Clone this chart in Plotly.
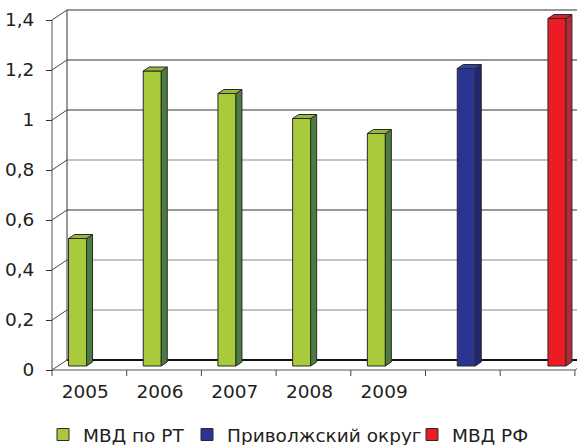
import plotly.graph_objects as go

# ---- data ----
years = ['2005', '2006', '2007', '2008', '2009']
rt_values = [0.51, 1.18, 1.09, 0.99, 0.93]
pfo_values = [1.19]
rf_values = [1.39]
series_names = ['МВД по РТ', 'Приволжский округ', 'МВД РФ']
y_ticks = [0, 0.2, 0.4, 0.6, 0.8, 1.0, 1.2, 1.4]
y_tick_text = ['0', '0,2', '0,4', '0,6', '0,8', '1', '1,2', '1,4']
n_categories = 7

# ---- geometry helpers (pixel -> axis units) ----
W, H = 577, 445
ML, MR, MT, MB = 40, 0, 4, 63
plot_w = W - ML - MR
plot_h = H - MT - MB
PXX = 74.7   # px per category
PXY = 250.0  # px per value unit
X0PX, Y0PX = 52, 370  # front origin in page pixels


def ux(px):
    return px / PXX


def uy(px):
    return px / PXY


def paper_x(px):
    return (px - ML) / plot_w


def paper_y(py):
    return (H - MB - py) / plot_h


x_range = [-(X0PX - ML) / PXX, (W - MR - X0PX) / PXX]
y_range = [-(H - MB - Y0PX) / PXY, (Y0PX - MT) / PXY]

DX, DY = ux(15), uy(10)     # back-wall depth offset
BDX, BDY = ux(6), uy(4)     # bar depth offset
BASE = uy(4)
BW = ux(18)
offsets = [ux(-11.8), ux(3.4), ux(19.4)]

cats_of_series = [list(range(len(years))), [5], [6]]
values = [rt_values, pfo_values, rf_values]
front_colors = ['#A9CB3B', '#2B3591', '#ED1C24']
side_colors = ['#4B7C3B', '#1F2870', '#B22A37']
top_colors = ['#93B83C', '#3540A0', '#DC1F29']
legend_ids = ['legend', 'legend2', 'legend3']
legend_left_px = [43, 187, 412]
OUT = '#2A2A2A'
TXT = '#231F20'
FONT = 'DejaVu Sans, sans-serif'

fig = go.Figure()

# front faces as bars
for s in range(3):
    xs = [c + 0.5 + offsets[s] for c in cats_of_series[s]]
    fig.add_trace(go.Bar(
        x=xs, y=values[s], base=BASE, width=BW, name=series_names[s],
        legend=legend_ids[s],
        marker=dict(color=front_colors[s], line=dict(color=OUT, width=1)),
        hoverinfo='skip'))

# side and top faces
for s in range(3):
    sx, sy, tx, ty = [], [], [], []
    for c, v in zip(cats_of_series[s], values[s]):
        xl = c + 0.5 + offsets[s] - BW / 2
        xr = xl + BW
        top = BASE + v
        sx += [xr, xr, xr + BDX, xr + BDX, xr, None]
        sy += [BASE, top, top + BDY, BASE + BDY, BASE, None]
        tx += [xl, xr, xr + BDX, xl + BDX, xl, None]
        ty += [top, top, top + BDY, top + BDY, top, None]
    fig.add_trace(go.Scatter(x=sx, y=sy, mode='lines', fill='toself',
                             fillcolor=side_colors[s], line=dict(color=OUT, width=1),
                             showlegend=False, hoverinfo='skip'))
    fig.add_trace(go.Scatter(x=tx, y=ty, mode='lines', fill='toself',
                             fillcolor=top_colors[s], line=dict(color=OUT, width=1),
                             showlegend=False, hoverinfo='skip'))

# 3D frame: back-wall gridlines, connectors, floor
shapes = []
dark_levels = {0.6, 1.0, 1.2, 1.4}
for v in y_ticks:
    if v == 0:
        col, wd = '#111111', 2
    elif round(v, 1) in dark_levels:
        col, wd = '#333333', 1.2
    else:
        col, wd = '#8A8A8A', 1.2
    shapes.append(dict(type='line', xref='x', yref='y', x0=DX, x1=x_range[1] + 1,
                       y0=v + DY, y1=v + DY, line=dict(color=col, width=wd), layer='below'))
    shapes.append(dict(type='line', xref='x', yref='y', x0=0, x1=DX,
                       y0=v, y1=v + DY, line=dict(color='#444444', width=1), layer='below'))
# back-wall left edge
shapes.append(dict(type='line', xref='x', yref='y', x0=DX, x1=DX, y0=DY,
                   y1=y_ticks[-1] + DY, line=dict(color='#333333', width=1), layer='below'))
# front vertical axis line
shapes.append(dict(type='line', xref='x', yref='y', x0=0, x1=0, y0=0,
                   y1=y_ticks[-1], line=dict(color='#555555', width=1), layer='below'))
# front floor edge
shapes.append(dict(type='line', xref='x', yref='y', x0=0, x1=n_categories, y0=0,
                   y1=0, line=dict(color='#555555', width=1), layer='below'))
# right floor edge
shapes.append(dict(type='line', xref='x', yref='y', x0=n_categories, x1=n_categories + DX,
                   y0=0, y1=DY, line=dict(color='#555555', width=1), layer='below'))
# x tick marks at category boundaries
for c in range(n_categories + 1):
    shapes.append(dict(type='line', xref='x', yref='y', x0=c, x1=c, y0=0,
                       y1=-uy(6), line=dict(color='#444444', width=1), layer='below'))

legend_common = dict(orientation='h', xanchor='left', yanchor='middle',
                     y=paper_y(435), bgcolor='rgba(0,0,0,0)',
                     font=dict(size=18.5, family=FONT, color=TXT))

fig.update_layout(
    width=W, height=H,
    margin=dict(l=ML, r=MR, t=MT, b=MB, autoexpand=False),
    paper_bgcolor='white', plot_bgcolor='white',
    barmode='overlay',
    shapes=shapes,
    font=dict(family=FONT, color=TXT),
    xaxis=dict(range=x_range, anchor='free', position=(H - MB - Y0PX) / plot_h,
               tickvals=[c + 0.5 + ux(-4) for c in range(len(years))], ticktext=years,
               ticks='', showgrid=False, zeroline=False, showline=False, automargin=False,
               tickfont=dict(size=18.5, family=FONT, color=TXT), ticklabelstandoff=8),
    yaxis=dict(range=y_range, anchor='free', position=(X0PX - ML) / plot_w,
               tickvals=y_ticks, ticktext=y_tick_text, ticks='outside', ticklen=6,
               tickcolor='#333333', showgrid=False, zeroline=False, showline=False,
               automargin=False,
               tickfont=dict(size=18.5, family=FONT, color=TXT), ticklabelstandoff=8),
    legend=dict(x=paper_x(legend_left_px[0]), **legend_common),
    legend2=dict(x=paper_x(legend_left_px[1]), **legend_common),
    legend3=dict(x=paper_x(legend_left_px[2]), **legend_common),
)

fig.write_html('out.html', config={'displayModeBar': False},
               post_script="document.body.style.margin='0';")
